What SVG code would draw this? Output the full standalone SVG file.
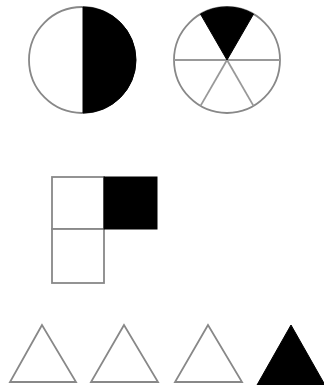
<svg xmlns="http://www.w3.org/2000/svg" width="324" height="385" viewBox="0 0 324 385">
<style>
.o{fill:#fff;stroke:#888;stroke-width:1.8}
.l{fill:none;stroke:#999;stroke-width:1.8}
.b{fill:#000;stroke:#000;stroke-width:1}
</style>
<rect width="324" height="385" fill="#fff"/>
<g id="circle-half">
<circle class="o" cx="82" cy="60" r="53"/>
<path class="b" d="M83 7 A53 53 0 0 1 83 113 Z"/>
</g>
<g id="circle-sectors">
<circle class="o" cx="227" cy="60" r="53"/>
<line class="l" x1="174" y1="60" x2="280" y2="60"/>
<line class="l" x1="227" y1="60" x2="200.5" y2="105.9"/>
<line class="l" x1="227" y1="60" x2="253.5" y2="105.9"/>
<path class="b" d="M227 60 L200.5 14.1 A53 53 0 0 1 253.5 14.1 Z"/>
</g>
<g id="squares">
<rect class="o" x="52" y="177" width="52" height="52"/>
<rect class="o" x="52" y="229" width="52" height="54"/>
<rect class="b" x="104" y="177" width="53" height="52"/>
</g>
<g id="triangles">
<polygon class="o" points="42,325 10,382 76,382"/>
<polygon class="o" points="124,325 91,382 158,382"/>
<polygon class="o" points="208,325 175,382 242,382"/>
<polygon class="b" points="291,325 257,385 325,385"/>
</g>
</svg>
